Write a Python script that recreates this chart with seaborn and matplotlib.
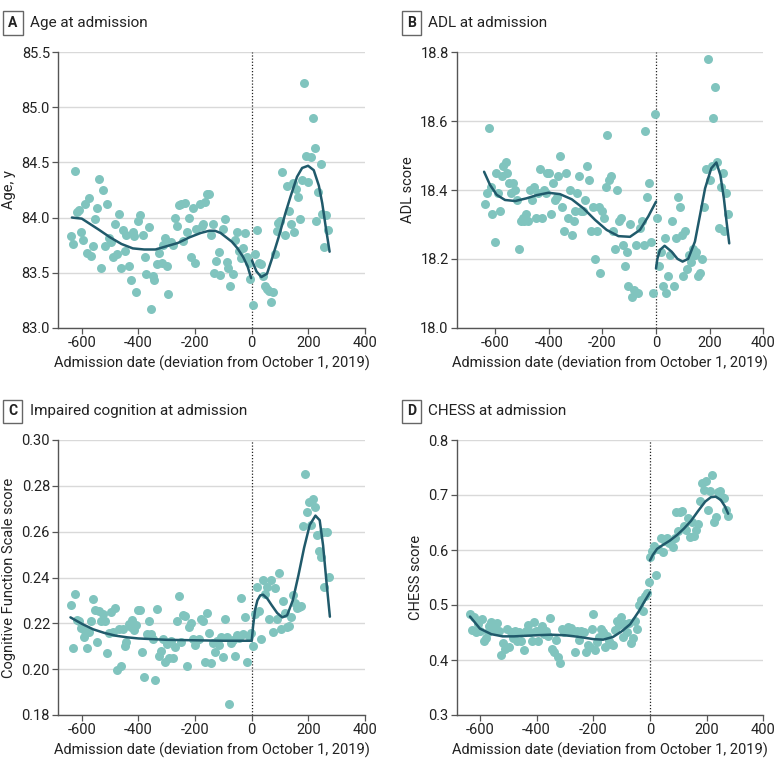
import matplotlib
matplotlib.use("Agg")
import matplotlib.pyplot as plt
import seaborn as sns

# ---- data: (days from Oct 1 2019, value) ----
age_points = [(-639,83.83),(-631,83.76),(-625,84.42),(-618,84.05),(-610,84.07),(-603,83.87),(-597,83.80),(-590,84.12),
    (-580,83.68),(-573,84.18),(-568,83.65),(-561,83.74),(-555,83.99),(-548,84.09),(-540,84.35),(-533,83.54),(-526,84.25),
    (-518,83.74),(-512,84.12),(-505,83.81),(-496,83.78),(-491,83.64),(-483,83.94),(-475,83.67),(-469,84.03),(-463,83.54),
    (-456,83.89),(-448,83.70),(-443,83.84),(-434,83.56),(-426,83.43),(-420,83.87),(-414,83.83),(-407,83.32),(-401,83.97),
    (-393,84.02),(-384,83.84),(-377,83.64),(-373,83.49),(-364,83.91),(-354,83.17),(-350,83.47),(-344,83.43),(-334,83.58),
    (-328,83.68),(-318,83.59),(-312,83.75),(-307,83.81),(-300,83.56),(-294,83.31),(-285,83.78),(-278,83.75),(-271,84.00),
    (-264,83.92),(-258,84.11),(-251,84.12),(-244,83.79),(-237,84.13),(-229,83.87),(-222,84.00),(-215,83.64),(-209,84.09),
    (-200,83.59),(-195,83.90),(-184,84.12),(-177,83.92),(-172,83.94),(-165,84.14),(-158,84.21),(-151,84.21),(-144,83.84),
    (-138,83.94),(-132,83.50),(-125,83.61),(-117,83.69),(-111,83.48),(-103,83.90),(-96,83.99),(-87,83.60),(-83,83.54),
    (-75,83.38),(-67,83.49),(-60,83.80),(-52,83.87),(-45,83.70),(-38,83.63),(-31,83.72),(-24,83.86),(-17,83.64),(-8,83.59),
    (-5,83.44),(4,83.21),(11,83.67),(19,83.89),(25,83.59),(33,83.58),(40,83.47),(48,83.38),(54,83.35),(61,83.33),(67,83.23),
    (74,83.32),(81,83.67),(88,83.88),(94,83.95),(101,83.97),(108,84.41),(116,83.84),(123,84.29),(130,84.06),(137,83.94),
    (144,84.31),(151,83.87),(158,84.26),(164,84.19),(170,83.99),(178,84.34),(186,85.22),(193,84.56),(200,84.32),(209,84.55),
    (215,84.90),(222,84.63),(228,83.97),(235,84.23),(243,84.49),(249,84.03),(256,83.73),(264,84.02),(271,83.89)]
age_fit_pre = [(-635,84.00),(-600,83.99),(-570,83.94),(-540,83.89),(-500,83.82),(-460,83.76),(-420,83.72),(-380,83.71),
    (-340,83.71),(-300,83.74),(-260,83.77),(-220,83.82),(-180,83.86),(-150,83.88),(-130,83.88),(-110,83.86),(-90,83.82),
    (-70,83.78),(-50,83.72),(-30,83.64),(-15,83.56),(-2,83.45)]
age_fit_post = [(1,83.61),(17,83.51),(34,83.46),(54,83.49),(72,83.63),(96,83.83),(119,84.04),(137,84.19),(160,84.37),
    (178,84.45),(199,84.47),(219,84.43),(237,84.29),(249,84.13),(261,83.92),(275,83.69)]

adl_points = [(-637,18.36),(-631,18.39),(-624,18.58),(-616,18.41),(-610,18.33),(-602,18.25),(-598,18.45),(-590,18.39),
    (-581,18.34),(-575,18.44),(-569,18.47),(-561,18.48),(-554,18.45),(-548,18.42),(-542,18.39),(-534,18.42),(-525,18.40),
    (-518,18.37),(-511,18.23),(-503,18.31),(-497,18.32),(-491,18.31),(-484,18.33),(-477,18.31),(-471,18.40),(-463,18.37),
    (-456,18.41),(-448,18.32),(-441,18.39),(-434,18.46),(-426,18.32),(-419,18.40),(-412,18.39),(-405,18.45),(-399,18.45),
    (-391,18.33),(-385,18.42),(-378,18.37),(-370,18.38),(-364,18.44),(-357,18.50),(-349,18.35),(-343,18.28),(-335,18.45),
    (-327,18.32),(-320,18.40),(-313,18.27),(-307,18.31),(-301,18.34),(-293,18.39),(-287,18.44),(-278,18.34),(-271,18.34),
    (-263,18.37),(-257,18.47),(-250,18.43),(-243,18.28),(-236,18.35),(-229,18.20),(-221,18.28),(-214,18.35),(-207,18.16),
    (-200,18.34),(-193,18.32),(-186,18.41),(-181,18.56),(-174,18.43),(-166,18.44),(-159,18.28),(-153,18.23),(-145,18.40),
    (-139,18.31),(-132,18.32),(-124,18.24),(-117,18.18),(-109,18.22),(-103,18.12),(-96,18.30),(-88,18.09),(-81,18.11),
    (-73,18.24),(-66,18.10),(-60,18.29),(-52,18.31),(-45,18.24),(-40,18.57),(-32,18.38),(-26,18.42),(-19,18.25),(-10,18.10),
    (-2,18.62),(4,18.32),(11,18.18),(19,18.22),(25,18.12),(32,18.26),(39,18.10),(46,18.15),(52,18.21),(60,18.31),(67,18.12),
    (75,18.26),(81,18.38),(88,18.35),(96,18.27),(102,18.15),(109,18.28),(117,18.17),(123,18.21),(130,18.19),(137,18.23),
    (144,18.21),(150,18.22),(158,18.15),(165,18.16),(173,18.20),(179,18.35),(185,18.46),(194,18.78),(201,18.43),(207,18.47),
    (214,18.61),(220,18.70),(227,18.48),(234,18.29),(241,18.41),(248,18.45),(255,18.28),(262,18.39),(270,18.33)]
adl_fit_pre = [(-641,18.453),(-619,18.415),(-594,18.386),(-563,18.371),(-525,18.368),(-482,18.376),(-445,18.385),
    (-401,18.392),(-358,18.388),(-314,18.373),(-271,18.347),(-227,18.313),(-184,18.284),(-140,18.266),(-97,18.264),
    (-60,18.284),(-29,18.323),(0,18.366)]
adl_fit_post = [(0,18.172),(5,18.200),(15,18.226),(32,18.238),(58,18.221),(80,18.200),(99,18.192),(120,18.200),
    (145,18.250),(164,18.327),(183,18.405),(206,18.463),(225,18.480),(240,18.443),(253,18.376),(263,18.308),(273,18.245)]

cfs_points = [(-639,0.2279),(-632,0.2091),(-624,0.2328),(-618,0.2215),(-610,0.2209),(-603,0.2180),(-594,0.2139),
    (-587,0.2168),(-580,0.2091),(-573,0.2161),(-567,0.2209),(-561,0.2306),(-554,0.2258),(-547,0.2120),(-540,0.2255),
    (-533,0.2209),(-526,0.2241),(-519,0.2209),(-512,0.2071),(-505,0.2156),(-496,0.2251),(-491,0.2161),(-483,0.2267),
    (-475,0.1998),(-469,0.2175),(-463,0.2015),(-456,0.2177),(-449,0.2103),(-443,0.2117),(-435,0.2197),(-428,0.2183),
    (-421,0.2215),(-414,0.2171),(-407,0.2194),(-400,0.2260),(-393,0.2258),(-386,0.2073),(-379,0.1964),(-370,0.2153),
    (-363,0.2209),(-356,0.2153),(-349,0.2132),(-342,0.1953),(-335,0.2263),(-328,0.2059),(-321,0.2081),(-314,0.2132),
    (-307,0.2033),(-300,0.2110),(-292,0.2049),(-285,0.2124),(-278,0.2049),(-271,0.2095),(-264,0.2209),(-257,0.2321),
    (-250,0.2117),(-244,0.2238),(-236,0.2233),(-229,0.2015),(-222,0.2183),(-215,0.2200),(-208,0.2132),(-200,0.2107),
    (-193,0.2129),(-186,0.2132),(-180,0.2219),(-173,0.2209),(-166,0.2030),(-159,0.2244),(-151,0.2156),(-144,0.2025),
    (-138,0.2114),(-131,0.2073),(-124,0.2124),(-117,0.2107),(-110,0.2139),(-103,0.2055),(-96,0.2219),(-88,0.2139),
    (-81,0.1848),(-74,0.2113),(-67,0.2127),(-60,0.2059),(-53,0.2151),(-46,0.2136),(-39,0.2311),(-32,0.2153),(-24,0.2226),
    (-17,0.2030),(-9,0.2146),(-2,0.2156),(5,0.2103),(12,0.2241),(18,0.2360),(26,0.2252),(32,0.2132),(39,0.2389),
    (46,0.2328),(53,0.2360),(60,0.2219),(67,0.2389),(74,0.2161),(81,0.2354),(88,0.2219),(96,0.2418),(103,0.2175),
    (110,0.2296),(117,0.2244),(124,0.2183),(131,0.2190),(138,0.2229),(145,0.2325),(152,0.2287),(159,0.2267),(166,0.2273),
    (173,0.2277),(180,0.2626),(188,0.2852),(195,0.2687),(202,0.2728),(209,0.2631),(216,0.2743),(223,0.2709),(230,0.2585),
    (237,0.2517),(244,0.2488),(251,0.2597),(256,0.2357),(267,0.2597),(274,0.2404)]
cfs_fit_pre = [(-640,0.2226),(-600,0.2198),(-560,0.2174),(-520,0.2158),(-480,0.2146),(-440,0.2139),(-400,0.2134),
    (-350,0.2131),(-300,0.2128),(-250,0.2127),(-200,0.2126),(-150,0.2125),(-100,0.2124),(-50,0.2124),(0,0.2124)]
cfs_fit_post = [(0,0.2124),(5,0.2190),(12,0.2260),(20,0.2300),(30,0.2322),(40,0.2325),(55,0.2308),(70,0.2280),
    (90,0.2245),(108,0.2226),(125,0.2235),(145,0.2300),(165,0.2410),(185,0.2530),(205,0.2630),(225,0.2670),(240,0.2650),
    (252,0.2540),(264,0.2380),(276,0.2229)]

chess_points = [(-635,0.4836),(-628,0.4545),(-621,0.4776),(-614,0.4503),(-607,0.4655),(-600,0.4521),(-593,0.4745),
    (-587,0.4339),(-580,0.4400),(-573,0.4503),(-567,0.4624),(-560,0.4685),(-553,0.4545),(-546,0.4624),(-539,0.4667),
    (-532,0.4533),(-525,0.4097),(-518,0.4303),(-511,0.4200),(-504,0.4564),(-497,0.4230),(-490,0.4503),(-483,0.4400),
    (-476,0.4533),(-469,0.4352),(-462,0.4503),(-455,0.4352),(-445,0.4182),(-438,0.4533),(-431,0.4642),(-424,0.4503),
    (-417,0.4352),(-410,0.4685),(-403,0.4521),(-396,0.4352),(-389,0.4545),(-382,0.4624),(-375,0.4473),(-368,0.4533),
    (-361,0.4442),(-354,0.4758),(-347,0.4200),(-340,0.4152),(-333,0.4364),(-326,0.4048),(-319,0.3939),(-312,0.4564),
    (-305,0.4503),(-298,0.4533),(-291,0.4606),(-284,0.4503),(-277,0.4582),(-270,0.4521),(-263,0.4139),(-256,0.4533),
    (-249,0.4364),(-242,0.4521),(-234,0.4503),(-227,0.4139),(-220,0.4279),(-213,0.4230),(-206,0.4564),(-200,0.4836),
    (-193,0.4182),(-186,0.4321),(-179,0.4412),(-172,0.4564),(-165,0.4503),(-158,0.4230),(-151,0.4442),(-144,0.4352),
    (-137,0.4291),(-130,0.4279),(-123,0.4545),(-116,0.4703),(-109,0.4642),(-102,0.4776),(-95,0.4412),(-88,0.4655),
    (-81,0.4503),(-74,0.4667),(-67,0.4303),(-60,0.4400),(-53,0.4715),(-46,0.4564),(-39,0.5006),(-32,0.5091),(-25,0.4897),
    (-18,0.5164),(-11,0.5212),(-4,0.5424),(1,0.5879),(8,0.5988),(16,0.6079),(23,0.5552),(30,0.6018),(38,0.6218),
    (45,0.5958),(52,0.6170),(59,0.6218),(66,0.6121),(73,0.6170),(80,0.6061),(87,0.6218),(91,0.6685),(98,0.6352),
    (106,0.6697),(113,0.6715),(120,0.6442),(127,0.6364),(134,0.6582),(141,0.6242),(148,0.6503),(155,0.6261),(162,0.6364),
    (169,0.6473),(176,0.6897),(183,0.7212),(190,0.7091),(197,0.7248),(204,0.6727),(211,0.7079),(218,0.7370),(225,0.6503),
    (232,0.6594),(239,0.7048),(246,0.7079),(253,0.6958),(260,0.6945),(267,0.6727),(274,0.6624)]
chess_fit_pre = [(-635,0.479),(-600,0.457),(-560,0.447),(-520,0.443),(-480,0.443),(-440,0.444),(-400,0.445),
    (-350,0.446),(-300,0.445),(-250,0.442),(-200,0.438),(-165,0.437),(-130,0.442),(-100,0.452),(-70,0.465),
    (-40,0.488),(-20,0.506),(0,0.523)]
chess_fit_post = [(0,0.581),(10,0.591),(25,0.602),(45,0.609),(70,0.617),(95,0.627),(120,0.639),(145,0.653),
    (170,0.671),(195,0.688),(215,0.696),(232,0.697),(250,0.691),(265,0.679),(276,0.666)]

x_ticks = [-600, -400, -200, 0, 200, 400]
panels = [
    ("A", "Age at admission", "Age, y", age_points, age_fit_pre, age_fit_post,
     (83.0, 85.5), [83.0, 83.5, 84.0, 84.5, 85.0, 85.5], "{:.1f}", (-683, 400)),
    ("B", "ADL at admission", "ADL score", adl_points, adl_fit_pre, adl_fit_post,
     (18.0, 18.8), [18.0, 18.2, 18.4, 18.6, 18.8], "{:.1f}", (-742, 400)),
    ("C", "Impaired cognition at admission", "Cognitive Function Scale score", cfs_points, cfs_fit_pre, cfs_fit_post,
     (0.18, 0.30), [0.18, 0.20, 0.22, 0.24, 0.26, 0.28, 0.30], "{:.2f}", (-683, 400)),
    ("D", "CHESS at admission", "CHESS score", chess_points, chess_fit_pre, chess_fit_post,
     (0.3, 0.8), [0.3, 0.4, 0.5, 0.6, 0.7, 0.8], "{:.1f}", (-681, 400)),
]

sns.set_theme(style="white")
plt.rcParams['font.family'] = ['Roboto', 'DejaVu Sans']

point_color = "#80c4be"
line_color = "#205a6b"

W, H = 780, 769
fig = plt.figure(figsize=(W / 100, H / 100), dpi=100)

# axes boxes in pixels: left, top, right, bottom
boxes = [(58.3, 52.3, 365, 327.7), (457, 52.3, 763.3, 327.7),
         (58.3, 440, 365, 715), (457, 440, 763.3, 715)]
heads = [(13, 23, 30), (411.5, 23, 428), (12.5, 411.5, 30), (411.5, 411.5, 428)]

for (letter, title, ylab, pts, fpre, fpost, ylim, yticks, fmt, xlim), box, head in zip(panels, boxes, heads):
    l, t, r, b = box
    ax = fig.add_axes([l / W, 1 - b / H, (r - l) / W, (b - t) / H])
    days = [p[0] for p in pts]
    vals = [p[1] for p in pts]
    sns.scatterplot(x=days, y=vals, ax=ax, color=point_color, s=42, linewidth=0, zorder=3)
    for seg in (fpre, fpost):
        sns.lineplot(x=[p[0] for p in seg], y=[p[1] for p in seg], ax=ax, color=line_color,
                     lw=1.8, sort=False, estimator=None, zorder=4)
    ax.axvline(0, color="#222222", lw=0.9, ls=(0, (1, 1.5)), zorder=2)

    ax.set_xlim(*xlim)
    ax.set_ylim(*ylim)
    ax.set_xticks(x_ticks)
    ax.set_xticklabels([str(v) for v in x_ticks])
    ax.set_yticks(yticks)
    ax.set_yticklabels([fmt.format(v) for v in yticks])
    ax.yaxis.grid(True, color="#d9d9d9", lw=1.0, zorder=0)
    ax.xaxis.grid(False)
    for side in ("top", "right"):
        ax.spines[side].set_visible(False)
    for side in ("left", "bottom"):
        ax.spines[side].set_color("#555555")
        ax.spines[side].set_linewidth(1.0)
    ax.tick_params(axis="both", direction="out", length=4, width=0.9, color="#555555",
                   labelsize=10.5, labelcolor="#222222", pad=2, left=True, bottom=True)
    ax.set_xlabel("Admission date (deviation from October 1, 2019)", fontsize=10.5, color="#222222", labelpad=4)
    ax.set_ylabel(ylab, fontsize=10.5, color="#222222", labelpad=4)

    bx, by, tx = head
    fig.text(bx / W, 1 - by / H, letter, ha="center", va="center", fontsize=10, fontweight="bold",
             color="#222222", bbox=dict(boxstyle="square,pad=0.35", fc="white", ec="#666666", lw=1.0))
    fig.text(tx / W, 1 - by / H, title, ha="left", va="center", fontsize=11, color="#222222")

fig.savefig("out.png", dpi=100)
